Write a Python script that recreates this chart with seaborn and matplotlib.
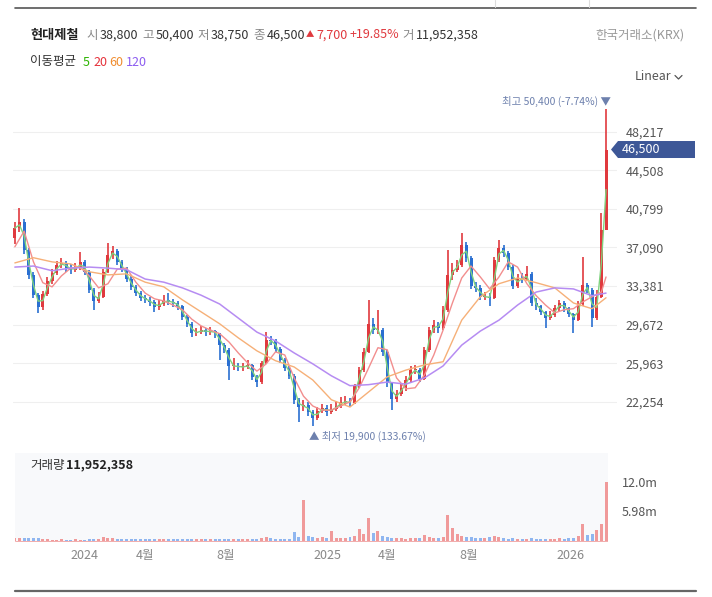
import matplotlib
matplotlib.use('Agg')
import matplotlib.pyplot as plt
from matplotlib.patches import Polygon
from matplotlib.lines import Line2D
import seaborn as sns
import numpy as np
import pandas as pd

sns.set_theme(style='white')
plt.rcParams['font.family'] = ['Noto Sans CJK KR', 'DejaVu Sans']
plt.rcParams['axes.unicode_minus'] = False

######## data (weekly candles, last one is the latest session) ########

first_week = '2023-09-19'

opens = [38000, 38950, 39550, 36850, 34450, 32500, 31350, 32600, 33850, 34650,
         35400, 35600, 35100, 34950, 35100, 35700, 34750, 33000, 31950, 32350,
         34750, 36350, 36750, 35700, 35000, 34050, 33300, 32700, 32250, 32050,
         31850, 31350, 31650, 32050, 31850, 31750, 31450, 30400, 29750, 28850,
         28950, 29150, 28950, 29050, 28850, 27700, 27250, 25700, 25700, 25600,
         25600, 25800, 24650, 24150, 26000, 28200, 28100, 27350, 26300, 25500,
         24750, 22450, 21750, 21950, 21300, 20700, 21400, 21650, 21300, 21550,
         21850, 22250, 22250, 22150, 23800, 25300, 27050, 29750, 29150, 29150,
         27050, 24050, 22550, 23000, 23600, 24350, 25300, 25300, 24450, 27250,
         29150, 29650, 29350, 31100, 34450, 34950, 35400, 37350, 36100, 33400,
         33200, 32350, 32350, 32250, 35900, 37050, 36550, 35200, 33400, 34150,
         34050, 34550, 31750, 31450, 30900, 30300, 30600, 31250, 31750, 31250,
         30700, 30100, 31650, 33500, 33000, 30300, 32350, 38800]

closes = [38950, 39550, 36850, 34450, 32500, 31350, 32600, 33850, 34650, 35400,
          35600, 35100, 34950, 35100, 35700, 34750, 33000, 31950, 32350, 34750,
          36350, 36750, 35700, 35000, 34050, 33300, 32700, 32250, 32050, 31850,
          31350, 31650, 32050, 31850, 31750, 31450, 30400, 29750, 28850, 28950,
          29150, 28950, 29050, 28850, 27700, 27250, 25700, 25700, 25600, 25600,
          25800, 24650, 24150, 26000, 28200, 28100, 27350, 26300, 25500, 24750,
          22450, 21750, 21950, 21300, 20700, 21400, 21650, 21300, 21550, 21850,
          22250, 22250, 22150, 23800, 25300, 27050, 29750, 29150, 29150, 27050,
          24050, 22550, 23000, 23600, 24350, 25300, 25300, 24450, 27250, 29150,
          29650, 29350, 31100, 34450, 34950, 35400, 37350, 36100, 33400, 33200,
          32350, 32350, 32250, 35900, 37050, 36550, 35200, 33400, 34150, 34050,
          34550, 31750, 31450, 30900, 30300, 30600, 31250, 31750, 31250, 30700,
          30100, 31650, 33500, 33000, 30300, 32350, 38800, 46500]

highs = [39500, 40850, 39800, 37000, 34700, 32700, 32900, 34200, 35000, 35800,
         36100, 35800, 35500, 35600, 36650, 35900, 34900, 33200, 32800, 35000,
         37500, 37200, 36900, 35900, 35200, 34300, 33500, 32900, 32500, 32300,
         32000, 32000, 32500, 32700, 32100, 31900, 31600, 30600, 29900, 29300,
         29500, 29300, 29400, 29200, 28900, 27900, 27400, 26500, 26000, 26000,
         26300, 25900, 24800, 26200, 28950, 28600, 28300, 27500, 26500, 25700,
         24900, 22600, 22400, 22200, 21500, 21800, 22000, 21900, 22000, 22300,
         22700, 22800, 22600, 24000, 25600, 27400, 32000, 30300, 31050, 29300,
         27200, 24200, 23400, 24000, 24700, 25700, 25800, 25500, 27500, 29400,
         30100, 29900, 31500, 36850, 35600, 35900, 38500, 37600, 36300, 33800,
         33500, 32800, 32700, 36200, 37800, 37300, 36700, 35400, 34500, 34600,
         35300, 34700, 32200, 31600, 31000, 31000, 31600, 32050, 31900, 31400,
         30800, 31900, 36200, 33700, 33200, 33000, 40400, 50400]

lows = [37400, 38600, 36500, 34100, 32200, 30800, 31100, 32400, 33600, 34400,
        35100, 34700, 34500, 34700, 34900, 34400, 32700, 31100, 31700, 32200,
        34600, 36000, 35400, 34700, 33800, 33000, 32400, 31900, 31700, 31500,
        30900, 31100, 31500, 31600, 31400, 31100, 30100, 29400, 28500, 28600,
        28800, 28600, 28700, 28400, 26300, 26900, 24350, 25300, 25200, 25200,
        25400, 24300, 23700, 24000, 25900, 27700, 27000, 26000, 25200, 24400,
        22000, 20300, 21400, 20900, 19900, 20500, 21200, 20900, 21100, 21400,
        21700, 21900, 21800, 22000, 23600, 25100, 26900, 28800, 28800, 26700,
        23700, 21500, 22200, 22800, 23300, 24100, 24900, 24200, 24300, 27000,
        28900, 28900, 29200, 30900, 34000, 34700, 35200, 35700, 33100, 32800,
        32000, 32000, 31500, 32100, 35700, 36200, 34900, 33100, 33200, 33700,
        33900, 31500, 31100, 30600, 29300, 30100, 30400, 31000, 30900, 30400,
        28900, 30000, 31500, 32700, 29400, 30100, 32200, 38750]

# volume in millions of shares
volumes = [0.45, 0.5, 0.55, 0.5, 0.45, 0.5, 0.3, 0.25, 0.2, 0.2,
           0.25, 0.2, 0.2, 0.25, 0.2, 0.2, 0.25, 0.3, 0.35, 0.7,
           0.55, 0.45, 0.3, 0.3, 0.35, 0.3, 0.3, 0.25, 0.3, 0.35,
           0.3, 0.3, 0.25, 0.3, 0.35, 0.3, 0.35, 0.4, 0.3, 0.3,
           0.35, 0.3, 0.3, 0.35, 0.4, 0.35, 0.3, 0.3, 0.35, 0.3,
           0.3, 0.25, 0.3, 0.6, 0.7, 0.55, 0.4, 0.3, 0.35, 0.4,
           1.8, 0.8, 8.3, 0.9, 0.7, 0.6, 0.8, 0.5, 2.0, 0.6,
           0.5, 0.45, 0.7, 1.0, 2.4, 1.3, 4.6, 1.6, 2.0, 0.9,
           0.7, 0.6, 0.5, 0.45, 0.4, 0.5, 0.6, 0.5, 1.2, 0.8,
           0.5, 0.6, 0.8, 5.3, 2.6, 1.4, 1.0, 0.8, 0.7, 0.5,
           0.45, 0.5, 0.7, 0.9, 0.7, 0.5, 0.4, 0.45, 0.4, 0.35,
           0.4, 0.45, 0.4, 0.35, 0.4, 0.35, 0.4, 0.45, 0.4, 0.5,
           0.6, 0.9, 3.5, 1.2, 1.4, 2.2, 3.5, 11.952358]

# moving averages (week index -> value)
ma20_weeks = list(range(0, 127, 2)) + [127]
ma20 = [37150, 38650, 35700, 33700, 33300, 34350, 35100, 35200, 34350, 33200,
        33600, 35000, 35100, 33750, 32700, 32150, 31950, 31550, 31100, 30200,
        29550, 29150, 28800, 28000, 26950, 26000, 25200, 25900, 27050, 26750,
        24550, 22800, 21850, 21450, 21450, 21850, 22250, 23600, 25500, 27450,
        27250, 24550, 23500, 23600, 24850, 26750, 29150, 31750, 34150, 35300,
        34250, 33100, 34250, 35700, 35200, 33600, 32450, 31550, 30800, 31100,
        31200, 31850, 32350, 32800, 34250]

ma_slow_weeks = list(range(0, 125, 4)) + [127]
ma60 = [35600, 36100, 35700, 35500, 34750, 34450, 34550, 33750, 33300, 32050,
        30900, 29750, 28400, 27150, 26200, 25600, 24350, 22450, 21750, 23200,
        24650, 25300, 25800, 26100, 30100, 32350, 33600, 34150, 33700, 33200,
        31750, 31200, 32250]
ma120 = [35200, 35300, 34850, 35100, 35200, 35100, 34950, 34050, 33750, 33200,
         32500, 31650, 30300, 28950, 28100, 26950, 25900, 24750, 23800, 23900,
         24150, 23950, 24550, 25700, 27700, 29050, 30100, 31550, 32800, 33200,
         33100, 32450, 32700]

price_ticks = [22254, 25963, 29672, 33381, 37090, 40799, 44508, 48217]
vol_ticks = [5.98, 12.0]
vol_tick_labels = ['5.98m', '12.0m']
month_ticks = ['2024-01-01', '2024-04-01', '2024-08-01', '2025-01-01',
               '2025-04-01', '2025-08-01', '2026-01-01']
month_labels = ['2024', '4월', '8월', '2025', '4월', '8월', '2026']

name = '현대제철'
exchange = '한국거래소(KRX)'

######## helpers ########

W, H = 712, 597

def fx(px):
    return px / W

def fy(py):
    return 1 - py / H

def px2date(px):
    # 2024-01-01 sits at x=84px, ~0.665 px per calendar day
    return pd.Timestamp('2024-01-01') + pd.Timedelta(days=(px - 84) / 0.665)

dates = pd.date_range(first_week, periods=len(closes), freq='7D')
o = np.array(opens)
c = np.array(closes)
hi = np.array(highs)
lo = np.array(lows)
up = c >= o

RED = '#e0393e'
BLUE = '#2a6fd1'

fig = plt.figure(figsize=(W / 100, H / 100), dpi=100)
fig.patch.set_facecolor('white')

######## price panel ########

ax = fig.add_axes([fx(13), fy(445), fx(617) - fx(13), fy(90) - fy(445)])
ax.set_facecolor('white')
ax.set_xlim(px2date(13), px2date(617))
ax.set_ylim(18100, 52220)

cols = np.where(up, RED, BLUE)
ax.vlines(dates, lo, hi, colors=cols, linewidth=1.2, zorder=2)
body_lo = np.minimum(o, c)
body_h = np.maximum(np.abs(c - o), 60)
ax.bar(dates, body_h, bottom=body_lo, width=4.5, color=cols, linewidth=0, zorder=2)

ma5 = pd.Series(closes).rolling(2, min_periods=1).mean()
sns.lineplot(x=dates, y=ma5.values, ax=ax, color='#7fd37f', linewidth=1, zorder=3)
sns.lineplot(x=dates[ma20_weeks], y=ma20, ax=ax, color='#f28e8e', linewidth=1, zorder=3)
sns.lineplot(x=dates[ma_slow_weeks], y=ma60, ax=ax, color='#f6b078', linewidth=1, zorder=3)
sns.lineplot(x=dates[ma_slow_weeks], y=ma120, ax=ax, color='#b68cf2', linewidth=1.1, zorder=3)

ax.yaxis.tick_right()
ax.set_yticks(price_ticks)
ax.set_yticklabels([f'{v:,}' for v in price_ticks])
ax.tick_params(axis='y', length=0, pad=6, labelsize=9, labelcolor='#555555')
ax.set_xticks([])
ax.grid(axis='y', color='#efefef', linewidth=0.8)
ax.set_axisbelow(True)
for s in ax.spines.values():
    s.set_visible(False)
ax.set_xlabel('')
ax.set_ylabel('')

last = closes[-1]
top = max(highs)
bottom = min(lows)
i_top = highs.index(top)
i_bot = lows.index(bottom)
ax.annotate(f'최고 {top:,} ({(last / top - 1) * 100:.2f}%) ▼', xy=(dates[i_top], top),
            xytext=(5, 2), textcoords='offset pixels', ha='right', va='bottom',
            fontsize=7.5, color='#6d80ad', annotation_clip=False)
ax.annotate(f'▲ 최저 {bottom:,} ({(last / bottom - 1) * 100:.2f}%)', xy=(dates[i_bot], bottom),
            xytext=(-4, -5), textcoords='offset pixels', ha='left', va='top',
            fontsize=7.5, color='#6d80ad', annotation_clip=False)

# current price tag
yc = fig.transFigure.inverted().transform(ax.transData.transform((ax.get_xlim()[0], last)))[1]
hh = 8.5 / H
tag = Polygon([(fx(611), yc), (fx(618), yc + hh), (fx(695), yc + hh),
               (fx(695), yc - hh), (fx(618), yc - hh)],
              closed=True, facecolor='#3d5797', edgecolor='none', transform=fig.transFigure)
fig.add_artist(tag)
fig.text(fx(622), yc, f'{last:,}', color='white', fontsize=9, va='center', ha='left')

######## volume panel ########

vax = fig.add_axes([fx(15), fy(542), fx(608) - fx(15), fy(453) - fy(542)])
vax.set_facecolor('#f8f9fb')
vax.set_xlim(px2date(15), px2date(608))
vax.set_ylim(-0.27, 17.93)
vcols = np.where(up, '#f09a9a', '#8fb6f0')
vax.bar(dates, volumes, width=4.5, color=vcols, linewidth=0)
vax.axhline(0, color='#f0a0a0', linewidth=0.6)

vax.yaxis.tick_right()
vax.set_yticks(vol_ticks)
vax.set_yticklabels(vol_tick_labels)
vax.set_xticks(pd.to_datetime(month_ticks))
vax.set_xticklabels(month_labels)
vax.tick_params(axis='y', length=0, pad=10, labelsize=9, labelcolor='#555555')
vax.tick_params(axis='x', length=0, pad=5, labelsize=9, labelcolor='#888888')
for s in vax.spines.values():
    s.set_visible(False)
fig.text(fx(30), fy(465), '거래량', fontsize=9, color='#333333', va='center')
fig.text(fx(66), fy(465), f'{round(volumes[-1] * 1e6):,}', fontsize=9, color='#222222',
         fontweight='bold', va='center')

######## header ########

hy = fy(35)
fig.text(fx(30), hy, name, fontsize=9.5, fontweight='bold', color='#222222', va='center')
parts = [(86, '시', '#888888'), (100, f'{opens[-1]:,}', '#333333'),
         (142, '고', '#888888'), (156, f'{highs[-1]:,}', '#333333'),
         (197, '저', '#888888'), (211, f'{lows[-1]:,}', '#333333'),
         (253, '종', '#888888'), (267, f'{closes[-1]:,}', '#333333')]
for px, t, col in parts:
    fig.text(fx(px), hy, t, fontsize=9, color=col, va='center')
chg = closes[-1] - opens[-1]
fig.text(fx(306), hy, '▲', fontsize=6, color=RED, va='center')
fig.text(fx(316), hy, f'{chg:,}', fontsize=9, color=RED, va='center')
fig.text(fx(350), hy, f'+{chg / opens[-1] * 100:.2f}%', fontsize=9, color=RED, va='center')
fig.text(fx(402), hy, '거', fontsize=9, color='#888888', va='center')
fig.text(fx(416), hy, f'{round(volumes[-1] * 1e6):,}', fontsize=9, color='#333333', va='center')
fig.text(fx(685), hy, exchange, fontsize=9, color='#999999', va='center', ha='right')

ly = fy(62)
fig.text(fx(30), ly, '이동평균', fontsize=9, color='#333333', va='center')
for px, t, col in [(83, '5', '#2db400'), (93, '20', '#e5323b'),
                   (109, '60', '#f08c2e'), (126, '120', '#8c5cf0')]:
    fig.text(fx(px), ly, t, fontsize=9, color=col, va='center')

fig.text(fx(635), fy(77), 'Linear', fontsize=9, color='#555555', va='center')
fig.add_artist(Line2D([fx(675), fx(678.5), fx(682)], [fy(75.5), fy(79), fy(75.5)],
                      color='#555555', linewidth=0.9))

# frame lines
fig.add_artist(Line2D([fx(15), fx(696)], [fy(7.5), fy(7.5)], color='#555555', linewidth=1.2))
for px in (495, 589):
    fig.add_artist(Line2D([fx(px), fx(px)], [fy(0), fy(7)], color='#dddddd', linewidth=0.8))
fig.add_artist(Line2D([fx(15), fx(696)], [fy(591), fy(591)], color='#666666', linewidth=1.6))

fig.savefig('out.png', dpi=100, facecolor='white')
